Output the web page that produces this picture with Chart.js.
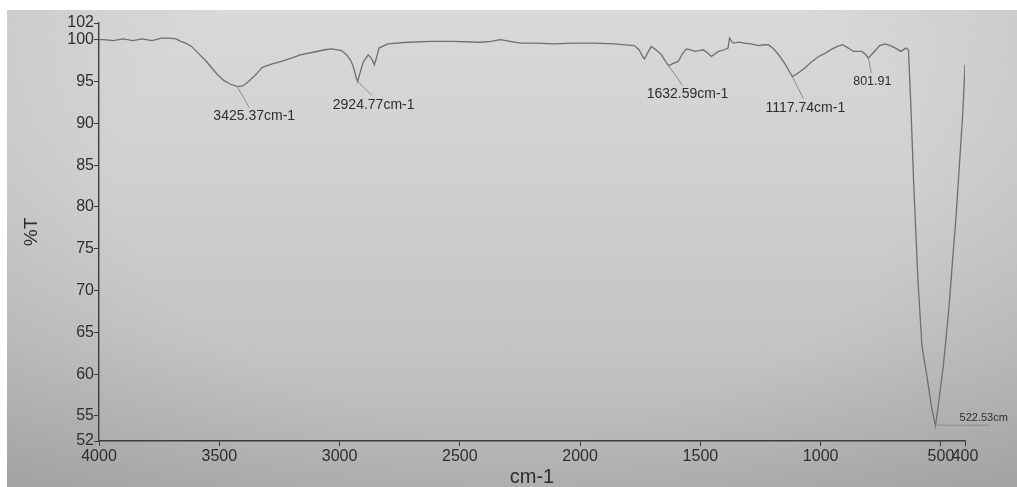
<!DOCTYPE html>
<html>
<head>
<meta charset="utf-8">
<title>FTIR spectrum</title>
<script src="https://cdn.jsdelivr.net/npm/chart.js@4"></script>
<style>
  html, body { margin: 0; padding: 0; background: #ffffff; overflow: hidden; }
  #paper {
    position: absolute; left: 7px; top: 10px; width: 1010px; height: 477px;
    background:
      radial-gradient(ellipse at 50% 35%, rgba(0,0,0,0) 55%, rgba(0,0,0,0.10) 100%),
      linear-gradient(to bottom, #d9d9d7 0%, #d0d0ce 35%, #c4c4c2 70%, #b4b4b2 100%);
  }
  #wrap { position: absolute; left: 0; top: 0; width: 1017px; height: 487px; }
</style>
</head>
<body>
<div id="paper"></div>
<div id="wrap"><canvas id="ftirChart" width="1017" height="487"></canvas></div>
<script>
//--------------------------------------
// FTIR transmittance spectrum
//--------------------------------------

// wavenumber (cm-1)
var ftir_wavenumber = [
  4000, 3980, 3940, 3900, 3860, 3820, 3780, 3740, 3708, 3680, 3660, 3640, 3615, 3588,
  3560, 3536, 3510, 3480, 3455, 3425, 3400, 3375, 3349, 3321, 3280, 3242, 3200, 3163,
  3110, 3060, 3032, 2992, 2971, 2955, 2943, 2932, 2925, 2912, 2902, 2881, 2868, 2855,
  2845, 2836, 2799, 2717, 2620, 2529, 2416, 2370, 2332, 2290, 2248, 2180, 2109, 2030,
  1942, 1860, 1775, 1755, 1740, 1733, 1720, 1704, 1685, 1662, 1645, 1632, 1610, 1592,
  1575, 1558, 1540, 1525, 1505, 1488, 1470, 1454, 1440, 1425, 1400, 1385, 1379, 1370,
  1362, 1340, 1317, 1290, 1258, 1235, 1217, 1195, 1175, 1150, 1130, 1118, 1100, 1085,
  1067, 1040, 1008, 980, 952, 930, 908, 885, 864, 829, 812, 802, 789, 770, 755, 732,
  710, 689, 667, 645, 635, 625, 614, 596, 579, 557, 540, 530, 523, 514, 490, 468,
  436, 409, 400
];
// transmittance (%T)
var ftir_transmittance = [
  100.0, 100.0, 99.9, 100.1, 99.9, 100.1, 99.9, 100.2, 100.2, 100.1, 99.8, 99.6, 99.2, 98.4,
  97.6, 96.8, 95.9, 95.1, 94.7, 94.4, 94.5, 95.1, 95.8, 96.7, 97.1, 97.4, 97.8, 98.2,
  98.5, 98.8, 98.9, 98.7, 98.2, 97.6, 96.8, 95.6, 95.0, 96.3, 97.3, 98.2, 97.8, 97.0,
  98.0, 99.0, 99.5, 99.7, 99.8, 99.8, 99.7, 99.8, 100.0, 99.8, 99.6, 99.6, 99.5, 99.6,
  99.6, 99.5, 99.3, 98.8, 98.0, 97.7, 98.4, 99.2, 98.8, 98.2, 97.4, 96.9, 97.2, 97.4,
  98.3, 98.9, 98.8, 98.6, 98.7, 98.8, 98.4, 98.0, 98.3, 98.6, 98.8, 99.0, 100.2, 99.8,
  99.6, 99.7, 99.6, 99.5, 99.3, 99.4, 99.4, 98.9, 98.2, 97.2, 96.2, 95.6, 95.9, 96.2,
  96.6, 97.3, 98.0, 98.4, 98.9, 99.2, 99.4, 99.0, 98.6, 98.6, 98.2, 97.8, 98.2, 98.8, 99.3, 99.5,
  99.3, 99.0, 98.6, 99.0, 98.8, 92.0, 83.3, 71.4, 63.4, 59.5, 56.2, 54.8, 53.8, 55.6, 61.0, 67.5,
  79.4, 91.3, 97.0
];

// axis ticks
var ftir_xTicks = [4000, 3500, 3000, 2500, 2000, 1500, 1000, 500, 400];
var ftir_yTicks = [52, 55, 60, 65, 70, 75, 80, 85, 90, 95, 100, 102];

// peak annotations
var ftir_peakWavenumber = [3425.37, 2924.77, 1632.59, 1117.74, 801.91, 522.53];
var ftir_peakLabels     = ["3425.37cm-1", "2924.77cm-1", "1632.59cm-1", "1117.74cm-1", "801.91", "522.53cm"];

// label layout (pixel offsets from the peak point)
var ftir_labelStyle = [
  { line: [12, 21], text: [17, 30], align: "center", size: 14 },
  { line: [14, 14], text: [16, 24], align: "center", size: 14 },
  { line: [14, 20], text: [19, 29], align: "center", size: 14 },
  { line: [11, 22], text: [13, 32], align: "center", size: 14 },
  { line: [3, 15],  text: [4, 23],  align: "center", size: 12.5 },
  { line: [54, 0],  text: [24, -7], align: "left",   size: 11 }
];

var ftir_textColor = "#2e2e2e";
var ftir_axisColor = "#3c3c3c";
var ftir_lineColor = "#6f6f6f";
var ftir_font      = "'Liberation Sans', Arial, sans-serif";

function ftir_valueAt(wn) {
  for (var i = 0; i < ftir_wavenumber.length - 1; i++) {
    var a = ftir_wavenumber[i], b = ftir_wavenumber[i+1];
    if (wn <= a && wn >= b) {
      var t = (a - wn) / (a - b);
      return ftir_transmittance[i] + t * (ftir_transmittance[i+1] - ftir_transmittance[i]);
    }
  }
  return ftir_transmittance[ftir_transmittance.length - 1];
}

var ftir_points = ftir_wavenumber.map(function(wn, i) { return { x: wn, y: ftir_transmittance[i] }; });

var ftir_peakPlugin = {
  id: "ftirPeaks",
  afterDatasetsDraw: function(chart) {
    var ctx = chart.ctx;
    var xs = chart.scales.x, ys = chart.scales.y;
    ctx.save();
    for (var i = 0; i < ftir_peakWavenumber.length; i++) {
      var st = ftir_labelStyle[i];
      var px = xs.getPixelForValue(ftir_peakWavenumber[i]);
      var py = ys.getPixelForValue(ftir_valueAt(ftir_peakWavenumber[i]));
      ctx.strokeStyle = "#8c8c8c";
      ctx.lineWidth = 1;
      ctx.beginPath();
      ctx.moveTo(px, py);
      ctx.lineTo(px + st.line[0], py + st.line[1]);
      ctx.stroke();
      ctx.fillStyle = ftir_textColor;
      ctx.font = st.size + "px " + ftir_font;
      ctx.textAlign = st.align;
      ctx.textBaseline = "middle";
      ctx.fillText(ftir_peakLabels[i], px + st.text[0], py + st.text[1]);
    }
    ctx.restore();
  }
};

var ftir_config = {
  type: "line",
  data: {
    datasets: [{
      label: "%T",
      data: ftir_points,
      borderColor: ftir_lineColor,
      borderWidth: 1.3,
      pointRadius: 0,
      tension: 0,
      fill: false
    }]
  },
  options: {
    responsive: false,
    animation: false,
    layout: { padding: { top: 23, right: 52, left: 0, bottom: 0 } },
    plugins: { legend: { display: false }, tooltip: { enabled: false } },
    scales: {
      x: {
        type: "linear",
        reverse: true,
        min: 400,
        max: 4000,
        afterBuildTicks: function(scale) { scale.ticks = ftir_xTicks.map(function(v) { return { value: v }; }); },
        afterFit: function(scale) { scale.height = 46; },
        grid: { display: true, drawOnChartArea: false, drawTicks: true, tickLength: 5, color: ftir_axisColor },
        border: { display: true, color: ftir_axisColor, width: 1.4 },
        ticks: {
          autoSkip: false, maxRotation: 0, padding: 1,
          color: ftir_textColor, font: { family: ftir_font, size: 16 },
          callback: function(v) { return String(v); }
        },
        title: {
          display: true, text: "cm-1", color: ftir_textColor,
          font: { family: ftir_font, size: 20, lineHeight: 1.0 }, padding: { top: 0, bottom: 0 }
        }
      },
      y: {
        min: 52,
        max: 102,
        afterBuildTicks: function(scale) { scale.ticks = ftir_yTicks.map(function(v) { return { value: v }; }); },
        afterFit: function(scale) { scale.width = 99; },
        grid: { display: true, drawOnChartArea: false, drawTicks: true, tickLength: 5, color: ftir_axisColor },
        border: { display: true, color: ftir_axisColor, width: 1.4 },
        ticks: {
          autoSkip: false, padding: 0,
          color: ftir_textColor, font: { family: ftir_font, size: 16 },
          callback: function(v) { return String(v); }
        },
        title: {
          display: true, text: "%T", color: ftir_textColor,
          font: { family: ftir_font, size: 19 }, padding: { top: 20, bottom: 0 }
        }
      }
    }
  },
  plugins: [ftir_peakPlugin]
};

new Chart(document.getElementById("ftirChart"), ftir_config);
</script>
</body>
</html>
